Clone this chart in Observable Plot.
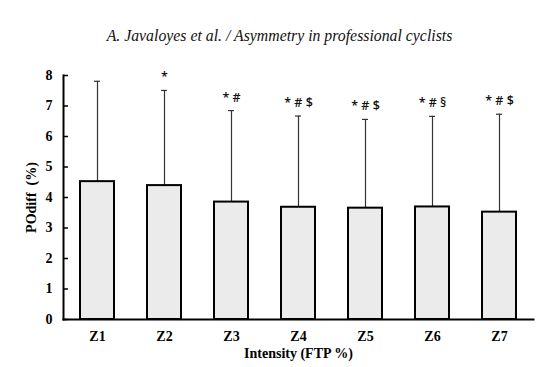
<!DOCTYPE html>
<html>
<head>
<meta charset="utf-8">
<script src="https://cdn.jsdelivr.net/npm/d3@7"></script>
<script src="https://cdn.jsdelivr.net/npm/@observablehq/plot@0.6"></script>
<style>
  body { margin: 0; background: #fff; }
  #wrap { width: 559px; height: 367px; position: relative; }
  #title { height: 58px; box-sizing: border-box; padding-top: 27px; line-height: 16px;
           font: italic 15.8px "Liberation Serif", serif; text-align: center; color: #111; }
</style>
</head>
<body>
<div id="wrap">
  <div id="title">A. Javaloyes et al. / Asymmetry in professional cyclists</div>
  <div id="chart"></div>
</div>
<script>
const zones = ["Z1", "Z2", "Z3", "Z4", "Z5", "Z6", "Z7"];
const means = [4.52, 4.39, 3.85, 3.68, 3.65, 3.69, 3.52];
const sds = [3.29, 3.12, 3.00, 2.99, 2.91, 2.97, 3.21];
const sig = ["", "*", "* #", "* # $", "* # $", "* # §", "* # $"];
const yTicks = [0, 1, 2, 3, 4, 5, 6, 7, 8];

const data = zones.map((z, i) => ({zone: z, mean: means[i], sd: sds[i], top: means[i] + sds[i], sig: sig[i]}));

const chart = Plot.plot({
  width: 559,
  height: 309,
  marginTop: 17,
  marginBottom: 48,
  marginLeft: 63,
  marginRight: 26,
  style: {fontFamily: "'Liberation Serif', serif", fontWeight: "bold", fontSize: "14px", color: "#000", background: "#fff"},
  x: {domain: zones, paddingInner: 0.5, paddingOuter: 0.25},
  y: {domain: [0, 8]},
  marks: [
    Plot.ruleX(data, {x: "zone", y1: "mean", y2: "top", stroke: "#333", strokeWidth: 1.2}),
    Plot.tickY(data, {x: "zone", y: "top", stroke: "#333", strokeWidth: 1.2, insetLeft: 14, insetRight: 14}),
    Plot.barY(data, {x: "zone", y: "mean", fill: "#ebebeb", stroke: "#000", strokeWidth: 2}),
    Plot.text(data, {x: "zone", y: "top", text: "sig", dy: -13, fontFamily: "Open Sans, sans-serif", fontWeight: 600, fontSize: 12.5, fill: "#111"}),
    Plot.axisY({ticks: yTicks, tickSize: -5, tickPadding: 16, tickFormat: d => d, label: "POdiff  (%)", labelAnchor: "center", labelArrow: "none", labelOffset: 37, strokeWidth: 1.5}),
    Plot.axisX({tickSize: 0, tickPadding: 12, label: "Intensity (FTP %)", labelAnchor: "center", labelArrow: "none", labelOffset: 38}),
    Plot.frame({anchor: "left", stroke: "#000", strokeWidth: 2}),
    Plot.frame({anchor: "bottom", stroke: "#000", strokeWidth: 2})
  ]
});
document.getElementById("chart").appendChild(chart);
</script>
</body>
</html>
